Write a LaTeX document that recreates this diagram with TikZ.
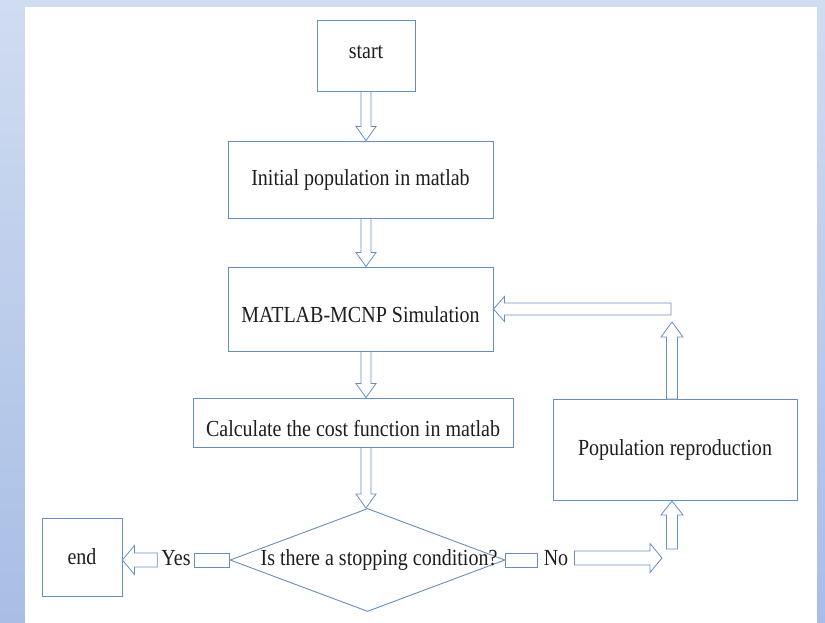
\documentclass[tikz,border=0pt]{standalone}
\usepackage{fontspec}
\setmainfont{Liberation Serif}[FakeStretch=0.87]
\usetikzlibrary{shapes.geometric,calc}
\definecolor{edge}{RGB}{104,142,192}
\definecolor{bgtop}{RGB}{208,220,241}
\definecolor{bgbot}{RGB}{168,190,229}
\definecolor{ink}{RGB}{30,30,30}
\tikzset{
  box/.style={draw=edge, line width=0.9pt, inner sep=0pt, text=ink,
    font=\fontsize{23}{26}\selectfont},
  lbl/.style={text=ink, inner sep=4pt, font=\fontsize{23}{26}\selectfont},
  % hollow block arrow: shaft half width, head half width, head length
  hollow/.style n args={3}{draw=edge, line width=0.8pt, fill=white,
    to path={($(\tikztotarget)!#3!(\tikztostart)$) coordinate (ah)
      ($(\tikztostart)!#1!90:(\tikztotarget)$)
      -- ($(ah)!#1!90:(\tikztotarget)$) -- ($(ah)!#2!90:(\tikztotarget)$)
      -- (\tikztotarget)
      -- ($(ah)!#2!-90:(\tikztotarget)$) -- ($(ah)!#1!-90:(\tikztotarget)$)
      -- ($(\tikztostart)!#1!-90:(\tikztotarget)$) -- cycle}},
  bar/.style={draw=edge, line width=0.8pt, fill=white,
    to path={($(\tikztostart)!#1!90:(\tikztotarget)$)
      -- ($(\tikztotarget)!#1!-90:(\tikztostart)$)
      -- ($(\tikztotarget)!#1!90:(\tikztostart)$)
      -- ($(\tikztostart)!#1!-90:(\tikztotarget)$) -- cycle}},
  down/.style={hollow={5pt}{10pt}{14pt}},
  side/.style={hollow={7pt}{14.5pt}{12pt}},
}
\begin{document}
\begin{tikzpicture}[x=1pt,y=-1pt]

   \shade [top color=bgtop, bottom color=bgbot] (0,0) rectangle (825,623);
   \fill [white] (25,7) rectangle (817,623);

   \node (start) at (366,55.5) [box, minimum width=98pt, minimum height=71pt, text depth=7pt] {start};
   \node (init) at (360.5,179.5) [box, minimum width=265pt, minimum height=77pt] {Initial population in matlab};
   \node (mcnp) at (360.5,309) [box, minimum width=265pt, minimum height=84pt, text height=28pt] {MATLAB-MCNP Simulation};
   \node (calc) at (353,422.5) [box, minimum width=320pt, minimum height=49pt, text height=28pt] {Calculate the cost function in matlab};
   \node (test) at (367.5,560) [draw=edge, line width=0.9pt, diamond, inner sep=0pt,
      minimum width=275pt, minimum height=103pt] {};
   \node (cond) at (379,560) [lbl] {Is there a stopping condition?};
   \node (end) at (82,557) [box, minimum width=80pt, minimum height=78pt] {end};
   \node (pop) at (675,450) [box, minimum width=244pt, minimum height=101pt] {Population reproduction};
   \node (yes) at (176,558) [lbl] {Yes};
   \node (no) at (556,558) [lbl, inner sep=6pt] {No};

   \coordinate (turn) at (662,558);
   \coordinate (rise) at (672,549);
   \coordinate (back) at (672,322);
   \coordinate (corner) at (671,309);

   \draw [down] (start.south) to (start.south |- init.north);
   \draw [down] (start.south |- init.south) to (start.south |- mcnp.north);
   \draw [down] (start.south |- mcnp.south) to (start.south |- calc.north);
   \draw [down] (start.south |- calc.south) to (start.south |- test.north);

   \draw [bar=7pt] (test.west) to (yes.east |- test.west);
   \draw [side] (yes.west |- test.west) to (end.east |- test.west);

   \draw [bar=7pt] (test.east) to (no.west |- test.east);
   \draw [side] (no.east |- turn) to (turn);
   \draw [hollow={5.5pt}{11pt}{14pt}] (rise) to (rise |- pop.south);
   \draw [hollow={5.5pt}{11pt}{15pt}] (pop.north -| back) to (back);
   \draw [hollow={6pt}{12.5pt}{11pt}] (corner) to (mcnp.east |- corner);

\end{tikzpicture}
\end{document}
